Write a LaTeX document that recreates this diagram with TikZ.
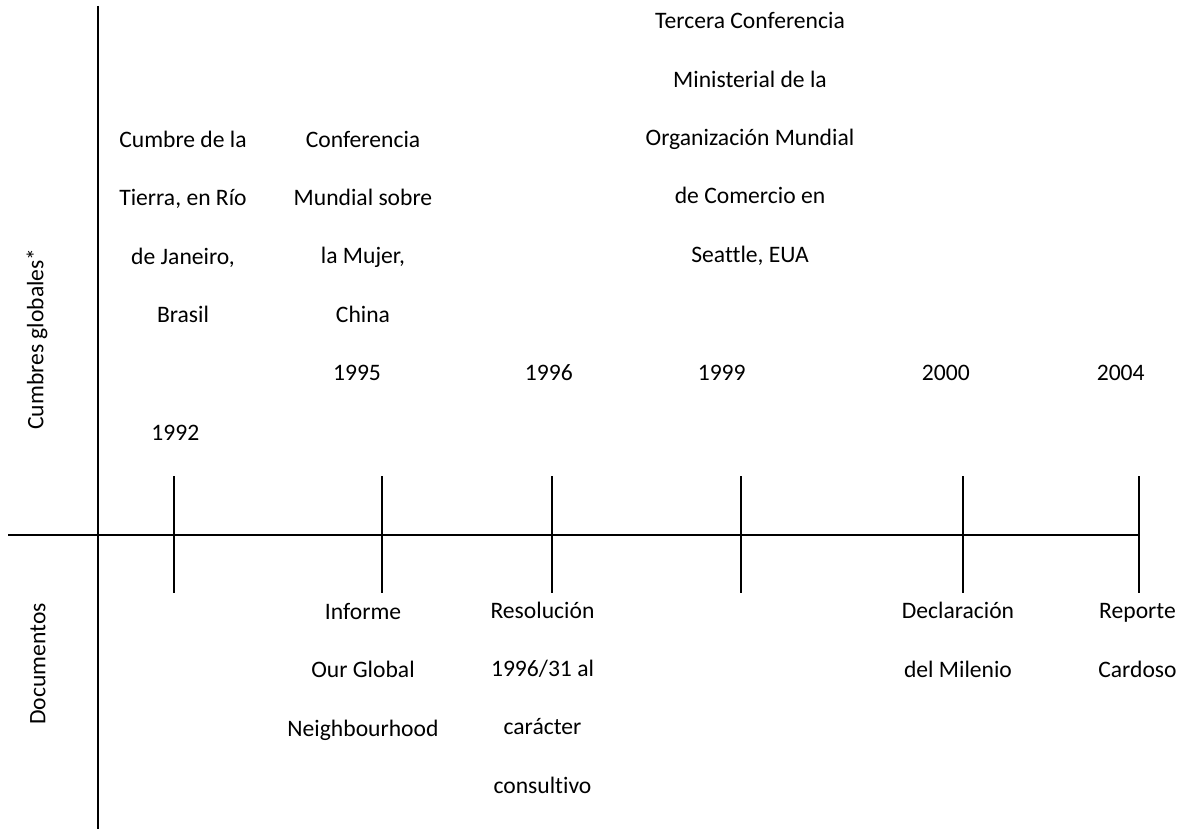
\documentclass[tikz,border=0pt]{standalone}
\usepackage{fontspec}
\setmainfont{Carlito}[Ligatures=NoCommon]
\begin{document}
\begin{tikzpicture}[x=1pt,y=-1pt,
  axis/.style={line width=2pt,black},
  label/.style={inner sep=0pt,align=center,anchor=base,
    font=\fontsize{23.6}{58.3}\selectfont},
  sidelabel/.style={inner sep=0pt,anchor=center,rotate=90,
    font=\fontsize{23.6}{28}\selectfont}]
\useasboundingbox (0,0) rectangle (1183,829);

% axes
\coordinate (vtop) at (98,6);
\coordinate (vbot) at (98,829);
\coordinate (hleft) at (8,535);
\coordinate (hright) at (1139,535);
\draw[axis] (vtop) -- (vbot);
\draw[axis] (hleft) -- (hright);

% year ticks
\foreach \name/\x in {t92/173.5,t95/381.7,t96/551.7,t99/740.7,t00/963.3,t04/1138.5}{
  \coordinate (\name a) at (\x,476);
  \coordinate (\name b) at (\x,593);
  \draw[axis] (\name a) -- (\name b);
}

% side labels
\node[sidelabel] (cumbres) at (37,339) {Cumbres globales*};
\node[sidelabel] (docs) at (38,664) {Documentos};

% summits (each node sits on the baseline of its last line)
\node[label] (rio) at (183,322.5) {Cumbre de la\\Tierra, en Río\\de Janeiro,\\Brasil};
\node[label] (y92) at (175.3,440) {1992};
\node[label] (mujer) at (363,322) {Conferencia\\Mundial sobre\\la Mujer,\\China};
\node[label] (y95) at (357,380.5) {1995};
\node[label] (y96) at (548.8,380.5) {1996};
\node[label] (omc) at (750,262) {Tercera Conferencia\\Ministerial de la\\Organización Mundial\\de Comercio en\\Seattle, EUA};
\node[label] (y99) at (721.7,380.5) {1999};
\node[label] (y00) at (945.8,380.5) {2000};
\node[label] (y04) at (1120.7,380.5) {2004};

% documents
\node[label] (informe) at (363,736) {Informe\\Our Global\\Neighbourhood};
\node[label] (resol) at (542.5,793) {Resolución\\1996/31 al\\carácter\\consultivo};
\node[label] (decl) at (958,677) {Declaración\\del Milenio};
\node[label] (cardoso) at (1137.5,677) {Reporte\\Cardoso};
\end{tikzpicture}
\end{document}
